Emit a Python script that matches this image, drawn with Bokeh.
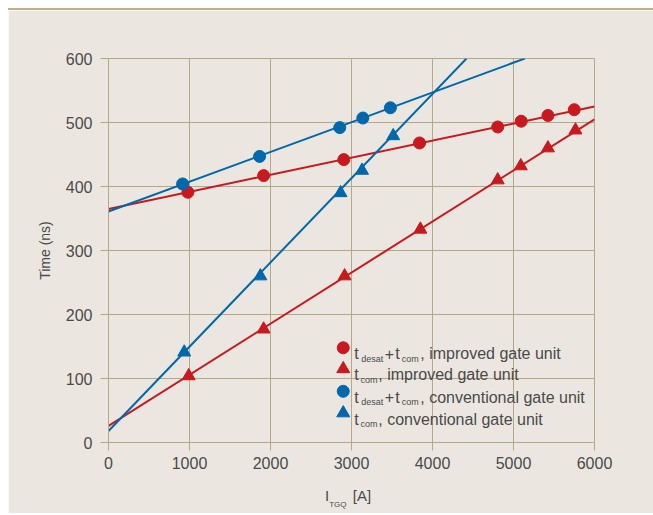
from bokeh.plotting import figure
from bokeh.models import Label, Range1d, FixedTicker, LinearAxis
from bokeh.embed import file_html
from bokeh.resources import INLINE

# ---- data ----
red_circ_x = [980, 1915, 2905, 3840, 4805, 5095, 5425, 5750]
red_circ_y = [391, 417, 442, 468, 493, 502, 511, 520]
red_tri_x = [990, 1915, 2915, 3850, 4805, 5090, 5425, 5765]
red_tri_y = [104, 177, 260, 333, 410, 432, 460, 488]
blue_circ_x = [915, 1865, 2855, 3140, 3480]
blue_circ_y = [404, 447, 492, 507, 523]
blue_tri_x = [935, 1875, 2865, 3130, 3515]
blue_tri_y = [141, 260, 390, 425, 479]

# fitted lines (end points)
red_circ_fit_x = [0, 6000]
red_circ_fit_y = [365, 525]
red_tri_fit_x = [0, 6000]
red_tri_fit_y = [26, 505]
blue_circ_fit_x = [0, 5140]
blue_circ_fit_y = [361, 600]
blue_tri_fit_x = [0, 4420]
blue_tri_fit_y = [18, 600]

x_ticks = [0, 1000, 2000, 3000, 4000, 5000, 6000]
y_ticks = [0, 100, 200, 300, 400, 500, 600]

legend_x = 2898
legend_rows_y = [148, 115, 80, 46]

RED = "#c8191e"
BLUE = "#0068ab"
BG = "#ebe7e0"
GRID = "#b4a888"
TXT = "#4a4a4a"
FONT = "Liberation Sans"

p = figure(width=645, height=505, output_backend="svg", toolbar_location=None,
           x_range=Range1d(0, 6000), y_range=Range1d(0, 600),
           min_border_left=100, min_border_right=59, min_border_top=48, min_border_bottom=73,
           background_fill_color=BG, border_fill_color=BG)
p.styles = {"border-top": "2px solid #bcb08f", "margin-left": "8px", "margin-top": "8px"}

p.outline_line_color = GRID
p.outline_line_width = 1
p.xgrid.grid_line_color = GRID
p.ygrid.grid_line_color = GRID
p.xgrid.ticker = FixedTicker(ticks=x_ticks)
p.ygrid.ticker = FixedTicker(ticks=y_ticks)

for ax in (p.xaxis[0], p.yaxis[0]):
    ax.axis_line_color = GRID
    ax.major_tick_line_color = GRID
    ax.major_tick_out = 8
    ax.major_tick_in = 0
    ax.minor_tick_line_color = None
    ax.major_label_text_font = FONT
    ax.major_label_text_font_size = "16px"
    ax.major_label_text_color = TXT
p.xaxis.ticker = FixedTicker(ticks=x_ticks)
p.yaxis.ticker = FixedTicker(ticks=y_ticks)
p.xaxis.major_label_standoff = 6
p.yaxis.major_label_standoff = 8
p.yaxis.axis_label = "Time (ns)"
p.yaxis.axis_label_text_font = FONT
p.yaxis.axis_label_text_font_size = "14px"
p.yaxis.axis_label_text_font_style = "normal"
p.yaxis.axis_label_text_color = TXT
p.yaxis.axis_label_standoff = 10

# lines
p.line(red_circ_fit_x, red_circ_fit_y, color=RED, line_width=2)
p.line(red_tri_fit_x, red_tri_fit_y, color=RED, line_width=2)
p.line(blue_circ_fit_x, blue_circ_fit_y, color=BLUE, line_width=2)
p.line(blue_tri_fit_x, blue_tri_fit_y, color=BLUE, line_width=2)

# markers
p.scatter(red_circ_x, red_circ_y, marker="circle", size=12, color=RED)
p.scatter(red_tri_x, red_tri_y, marker="triangle", size=13, color=RED)
p.scatter(blue_circ_x, blue_circ_y, marker="circle", size=12, color=BLUE)
p.scatter(blue_tri_x, blue_tri_y, marker="triangle", size=13, color=BLUE)

# legend
leg_markers = ["circle", "triangle", "circle", "triangle"]
leg_colors = [RED, RED, BLUE, BLUE]
for i in range(4):
    p.scatter([legend_x], [legend_rows_y[i]], marker=leg_markers[i],
              size=12 if leg_markers[i] == "circle" else 13, color=leg_colors[i])

def lab(x, y, text, xo, yo, size):
    p.add_layout(Label(x=x, y=y, text=text, x_offset=xo, y_offset=yo,
                       text_font=FONT, text_font_size=size, text_color=TXT,
                       text_baseline="alphabetic", text_align="left"))

suffixes = [", improved gate unit", ", improved gate unit",
            ", conventional gate unit", ", conventional gate unit"]
for i in range(4):
    y = legend_rows_y[i]
    if leg_markers[i] == "circle":
        lab(legend_x, y, "t", 11, -6, "16px")
        lab(legend_x, y, "desat", 18, -11, "9px")
        lab(legend_x, y, "+", 41.5, -6, "16px")
        lab(legend_x, y, "t", 52, -6, "16px")
        lab(legend_x, y, "com", 58.5, -11, "9px")
        lab(legend_x, y, suffixes[i], 77, -6, "16px")
    else:
        lab(legend_x, y, "t", 11, -6, "16px")
        lab(legend_x, y, "com", 17.3, -11, "9px")
        lab(legend_x, y, suffixes[i], 35, -6, "16px")

# x axis title "I_TGQ [A]" built from label-only axes (text centres in data units)
xlabel_main_pos = [2698, 3130]
xlabel_main_text = ["I", "[A]"]
xlabel_sub_pos = [2831]
xlabel_sub_text = ["TGQ"]

def text_axis(pos, texts, size, standoff):
    ax = LinearAxis(ticker=FixedTicker(ticks=pos),
                    major_label_overrides={k: t for k, t in zip(pos, texts)},
                    axis_line_color=None, major_tick_line_color=None,
                    minor_tick_line_color=None, major_tick_out=0, major_tick_in=0,
                    major_label_text_font=FONT,
                    major_label_text_font_size=size, major_label_text_color=TXT,
                    major_label_standoff=standoff)
    p.add_layout(ax, "below")

text_axis(xlabel_main_pos, xlabel_main_text, "15px", 15)
text_axis(xlabel_sub_pos, xlabel_sub_text, "8px", -7)

open("out.html", "w").write(file_html(p, INLINE))
